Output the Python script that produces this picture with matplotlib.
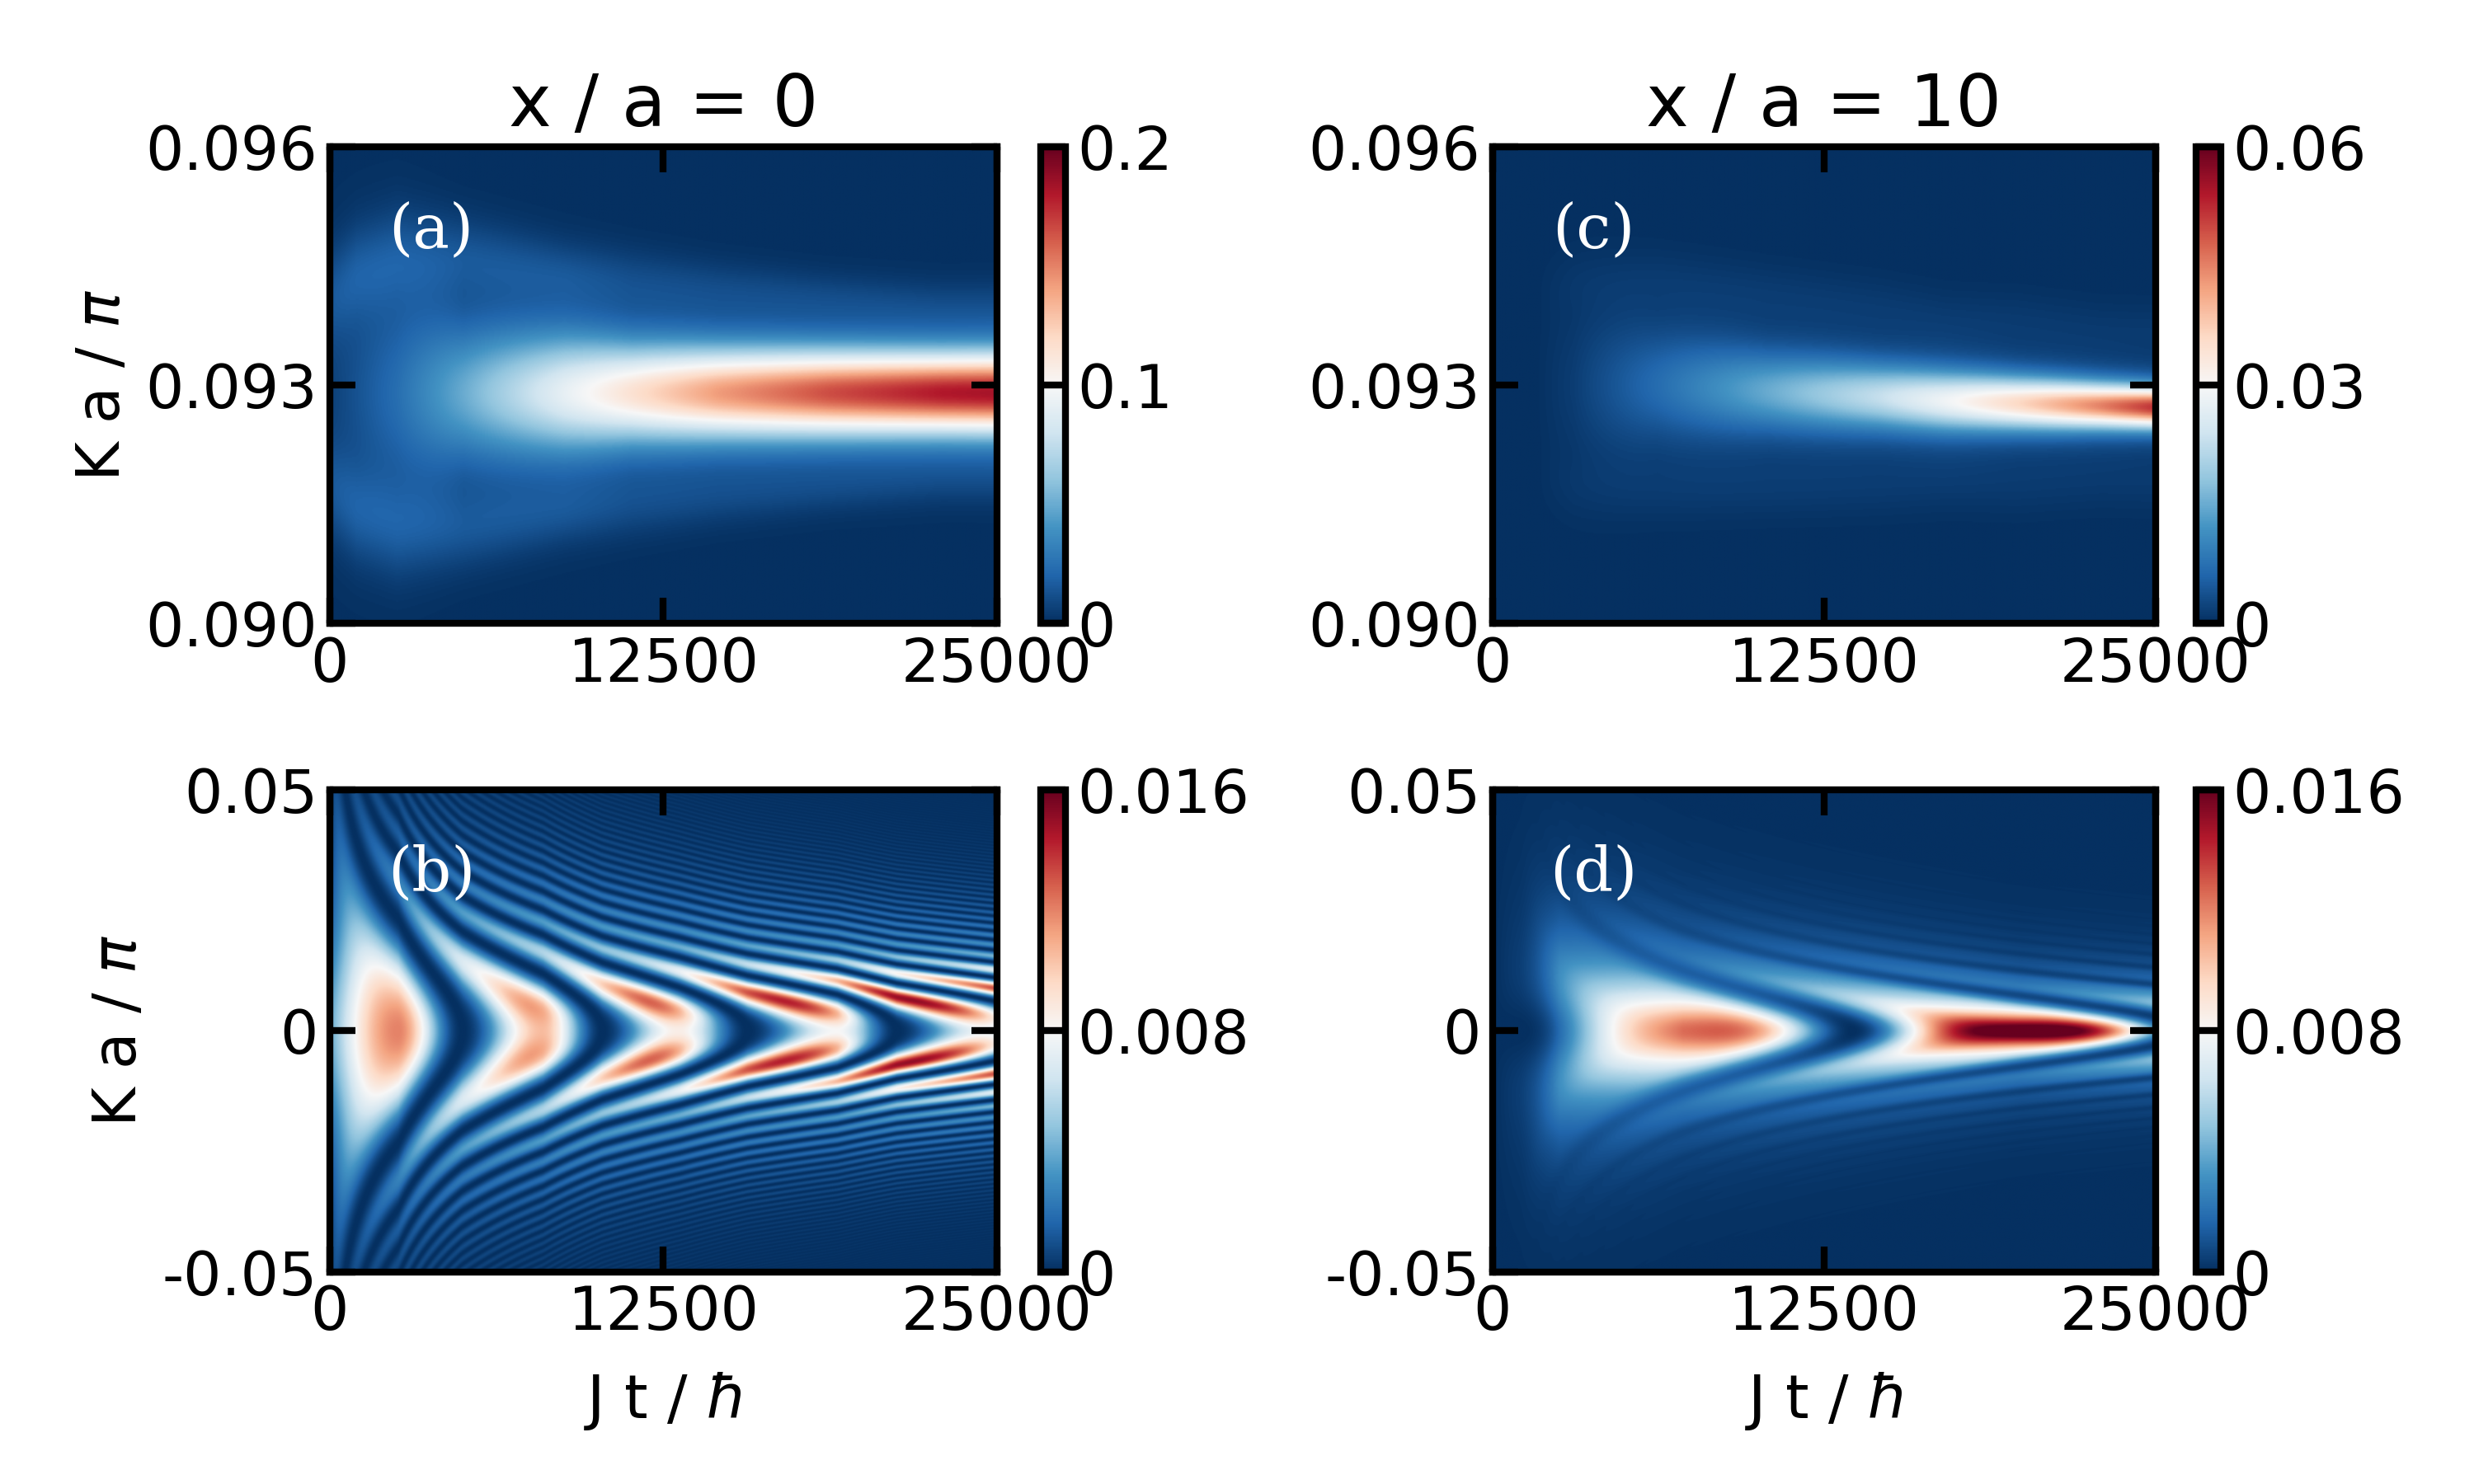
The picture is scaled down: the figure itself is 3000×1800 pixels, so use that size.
import numpy as np
import matplotlib
matplotlib.use("Agg")
import matplotlib.pyplot as plt

# ---- values ----
t_max = 25000

# (a) x/a = 0, ridge near K a/pi = 0.0929
a_t = [0, 1000, 2500, 5000, 8800, 11300, 14500, 18700, 22900, 25000]
a_peak = [0.006, 0.013, 0.024, 0.050, 0.092, 0.115, 0.142, 0.165, 0.180, 0.183]
a_halfwidth = [0.0012, 0.0011, 0.0010, 0.0007, 0.0006, 0.0005, 0.00045, 0.00042, 0.0004, 0.0004]
a_shoulder = [0.012, 0.015, 0.015, 0.013, 0.011, 0.009, 0.008, 0.007, 0.006, 0.006]
a_shoulder_pos = [0.0012, 0.0015, 0.0017, 0.0017, 0.0015, 0.0014, 0.0013, 0.0012, 0.0011, 0.0011]
a_shoulder_w = [0.0006, 0.0006, 0.0006, 0.0005, 0.0004, 0.0004, 0.00035, 0.0003, 0.0003, 0.0003]
a_center = 0.0929

# (c) x/a = 10, ridge drifts slightly down in K
c_t = [0, 1500, 3000, 6200, 10400, 14600, 17100, 19800, 22900, 25000]
c_peak = [0.0, 0.0, 0.0015, 0.007, 0.015, 0.023, 0.029, 0.036, 0.045, 0.052]
c_center = [0.0930, 0.0930, 0.0930, 0.0930, 0.09292, 0.09285, 0.0928, 0.09277, 0.09274, 0.09272]
c_halfwidth = [0.0009, 0.0009, 0.0008, 0.00055, 0.0004, 0.00033, 0.0003, 0.00026, 0.00022, 0.0002]
c_shoulder = [0.0, 0.0, 0.0006, 0.001, 0.0012, 0.0012, 0.0012, 0.0012, 0.0012, 0.0012]
c_shoulder_pos = [0.0010, 0.0012, 0.0013, 0.0013, 0.0012, 0.0011, 0.0010, 0.0010, 0.0009, 0.0009]
c_shoulder_w = [0.0004] * 10

# dispersion of the oscillation frequency with K (shared by b and d)
curv2 = 3.0
curv4 = 800.0

# (b) x/a = 0: phase along K = 0 in units of pi (darks even, maxima odd)
b_phase_t = [0, 2550, 4950, 7980, 10200, 13090, 15640, 19000, 21230, 25000]
b_phase = [0.38, 1, 2, 3, 4, 5, 6, 7, 8, 9.15]
b_env_t = [0, 2550, 7980, 13090, 19000, 25000]
b_vertex = [0.0120, 0.0120, 0.0105, 0.0085, 0.0080, 0.0076]
b_arm = [0.0095, 0.0095, 0.0112, 0.0132, 0.0152, 0.0158]
b_arm_k = 0.0075
b_fade_k = 0.03
b_contrast_k = 1.0

# (d) x/a = 10: phase along K = 0, envelope and K width
d_phase_t = [0, 1000, 7170, 13550, 19930, 25000]
d_phase = [0, 0, 1, 2, 3, 3.79]
d_env_t = [0, 1000, 2500, 7170, 19930, 25000]
d_env = [0.0, 0.002, 0.007, 0.0125, 0.0172, 0.0175]
d_kw_t = [0, 2500, 7170, 19930, 25000]
d_kw = [0.015, 0.014, 0.0085, 0.0042, 0.004]
d_fade_k = 0.025
d_contrast_k = 0.015

t = np.linspace(0, t_max, 1000)


def ridge(K, center, peak, hw, sh, sh_pos, sh_w):
    dk = np.abs(K - center)
    core = 0.8 * np.exp(-np.log(2) * (dk / hw) ** 2) + 0.2 * np.exp(-(dk / (2 * hw)) ** 2)
    return peak * core + sh * np.exp(-((dk - sh_pos) / sh_w) ** 2)


def freq_ratio(K, w0):
    return 1 + (curv2 * K ** 2 + curv4 * K ** 4) / w0


def wave(phase, K, kc, m):
    # oscillation with flattened tops; contrast drops away from K = 0
    c = 1 / (1 + (K / kc) ** 2)
    return 1 - c * np.abs(np.cos(phase / 2)) ** m


# ---- fields ----
k_top = np.linspace(0.090, 0.096, 420)
T, K = np.meshgrid(t, k_top)
field_a = ridge(K, a_center, np.interp(t, a_t, a_peak), np.interp(t, a_t, a_halfwidth),
                np.interp(t, a_t, a_shoulder), np.interp(t, a_t, a_shoulder_pos),
                np.interp(t, a_t, a_shoulder_w))
field_c = ridge(K, np.interp(t, c_t, c_center), np.interp(t, c_t, c_peak),
                np.interp(t, c_t, c_halfwidth), np.interp(t, c_t, c_shoulder),
                np.interp(t, c_t, c_shoulder_pos), np.interp(t, c_t, c_shoulder_w))

k_bot = np.linspace(-0.05, 0.05, 1000)
T, K = np.meshgrid(t, k_bot)

# (b)
w0 = np.pi * (b_phase[8] - b_phase[2]) / (b_phase_t[8] - b_phase_t[2])
ratio = freq_ratio(K, w0)
p0 = np.pi * b_phase[0]
phase = p0 + (np.pi * np.interp(t, b_phase_t, b_phase) - p0) * ratio
vert = np.interp(t, b_env_t, b_vertex)
arm_ratio = freq_ratio(b_arm_k, w0)
gain = np.clip(np.interp(t, b_env_t, b_arm) * arm_ratio / vert - 1, 0, None)
ring = (K / b_arm_k) ** 2 * np.exp(1 - (K / b_arm_k) ** 2)
fade = np.exp(-(K / b_fade_k) ** 2 * T / t_max)
field_b = vert / ratio * (1 + gain * ring) * fade * wave(phase, K, b_contrast_k, 2)

# (d)
w0 = np.pi * (d_phase[4] - d_phase[2]) / (d_phase_t[4] - d_phase_t[2])
ratio = freq_ratio(K, w0)
phase = np.pi * np.interp(t, d_phase_t, d_phase) * ratio
kw = np.interp(t, d_kw_t, d_kw)
fade = np.exp(-(K / d_fade_k) ** 2 * (0.3 + T / t_max))
field_d = (np.interp(t, d_env_t, d_env) / (1 + (K / kw) ** 2) * fade
           * wave(phase, K, d_contrast_k, 4))

# ---- figure ----
plt.rcParams["font.family"] = ["DejaVu Sans"]
fig = plt.figure(figsize=(10, 6), dpi=300)

panels = [
    (field_a, [0.090, 0.096], [0.090, 0.093, 0.096], ["0.090", "0.093", "0.096"],
     0.2, [0, 0.1, 0.2], ["0", "0.1", "0.2"], "(a)", [0.1333, 0.580, 0.2697, 0.321], 0.4207),
    (field_b, [-0.05, 0.05], [-0.05, 0, 0.05], ["-0.05", "0", "0.05"],
     0.016, [0, 0.008, 0.016], ["0", "0.008", "0.016"], "(b)", [0.1333, 0.143, 0.2697, 0.325], 0.4207),
    (field_c, [0.090, 0.096], [0.090, 0.093, 0.096], ["0.090", "0.093", "0.096"],
     0.06, [0, 0.03, 0.06], ["0", "0.03", "0.06"], "(c)", [0.6033, 0.580, 0.268, 0.321], 0.8877),
    (field_d, [-0.05, 0.05], [-0.05, 0, 0.05], ["-0.05", "0", "0.05"],
     0.016, [0, 0.008, 0.016], ["0", "0.008", "0.016"], "(d)", [0.6033, 0.143, 0.268, 0.325], 0.8877),
]

for i, (field, klim, yt, ytl, vmax, ct, ctl, letter, pos, cx) in enumerate(panels):
    ax = fig.add_axes(pos)
    im = ax.imshow(field, origin="lower", aspect="auto", cmap="RdBu_r",
                   vmin=0, vmax=vmax, extent=[0, t_max, klim[0], klim[1]],
                   interpolation="antialiased")
    ax.set_xticks([0, 12500, 25000])
    ax.set_xticklabels(["0", "12500", "25000"])
    ax.set_yticks(yt)
    ax.set_yticklabels(ytl)
    ax.tick_params(direction="in", top=True, right=True, length=7.5,
                   width=2, labelsize=17.5)
    for s in ax.spines.values():
        s.set_linewidth(2)
    ax.text(0.152, 0.825, letter, transform=ax.transAxes, color="white",
            family="DejaVu Serif", fontsize=18, ha="center", va="center")
    if i == 0:
        ax.set_title("x / a = 0", fontsize=21, pad=6)
    if i == 2:
        ax.set_title("x / a = 10", fontsize=21, pad=6)
    if i < 2:
        ax.set_ylabel(r"K a / $\pi$", fontsize=17.5)
    if i in (1, 3):
        ax.set_xlabel(r"J t / $\hbar$", fontsize=17.5, labelpad=8)

    cax = fig.add_axes([cx, pos[1], 0.010, pos[3]])
    cb = fig.colorbar(im, cax=cax)
    cb.outline.set_linewidth(2)
    cb.set_ticks(ct)
    cb.set_ticklabels(ctl)
    cax.tick_params(direction="in", length=7.5, width=2, labelsize=17.5)

fig.savefig("out.png", dpi=300)
